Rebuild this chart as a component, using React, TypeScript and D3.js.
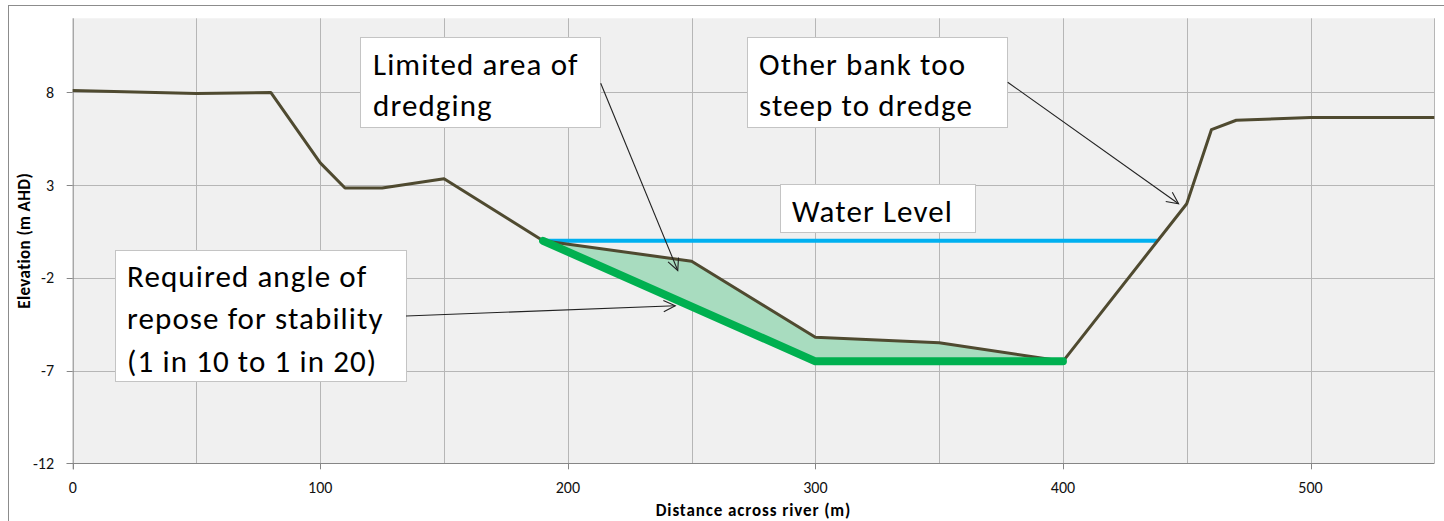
import React from 'react';
import * as d3 from 'd3';

// river cross-section, distance (m) vs elevation (m AHD)
const bankX = [0, 50, 80, 100, 110, 125, 150, 190, 250, 300, 350, 400, 450, 460, 470, 500, 550];
const bankElev = [8.1, 7.95, 8.0, 4.2, 2.85, 2.85, 3.35, 0, -1.1, -5.2, -5.5, -6.5, 2.0, 6.0, 6.5, 6.65, 6.65];

// required angle of repose profile
const reposeX = [190, 300, 400];
const reposeElev = [0, -6.5, -6.5];

// water level
const waterX = [190, 438];
const waterElev = [0, 0];

const xTicks = [0, 100, 200, 300, 400, 500];
const xGrid = [50, 100, 150, 200, 250, 300, 350, 400, 450, 500, 550];
const yTicks = [-12, -7, -2, 3, 8];

const W = 1444;
const H = 521;
const FONT = 'Carlito, Calibri, Lato, sans-serif';

type Pt = [number, number];

const Arrow = ({ from, to }: { from: Pt; to: Pt }) => {
  const ang = Math.atan2(to[1] - from[1], to[0] - from[0]);
  const len = 13;
  const spread = 0.45;
  const a1: Pt = [to[0] - len * Math.cos(ang - spread), to[1] - len * Math.sin(ang - spread)];
  const a2: Pt = [to[0] - len * Math.cos(ang + spread), to[1] - len * Math.sin(ang + spread)];
  return (
    <g stroke="#222" strokeWidth={1.1} fill="none">
      <line x1={from[0]} y1={from[1]} x2={to[0]} y2={to[1]} />
      <polyline points={`${a1[0]},${a1[1]} ${to[0]},${to[1]} ${a2[0]},${a2[1]}`} />
    </g>
  );
};

const TextBox = ({ x, y, w, h, lines, tx, baselines }: {
  x: number; y: number; w: number; h: number; lines: string[]; tx: number; baselines: number[];
}) => (
  <g>
    <rect x={x + 0.5} y={y + 0.5} width={w} height={h} fill="#fff" stroke="#c4c4c4" strokeWidth={1} />
    <text fontFamily={FONT} fontSize={31} letterSpacing={1.1} fill="#000">
      {lines.map((l, i) => (
        <tspan key={i} x={tx} y={baselines[i]}>{l}</tspan>
      ))}
    </text>
  </g>
);

export default function App() {
  const x = d3.scaleLinear().domain([0, 550]).range([72.7, 1434.3]);
  const y = d3.scaleLinear().domain([-12, 12]).range([463.3, 18.3]);

  const line = d3.line<Pt>().x(d => x(d[0])).y(d => y(d[1]));

  const bank: Pt[] = bankX.map((v, i) => [v, bankElev[i]]);
  const repose: Pt[] = reposeX.map((v, i) => [v, reposeElev[i]]);
  const water: Pt[] = waterX.map((v, i) => [v, waterElev[i]]);

  // dredge area: bank between the repose ends, back along the repose line
  const dredgeTop = bank.filter(d => d[0] >= reposeX[0] && d[0] <= reposeX[reposeX.length - 1]);
  const dredge: Pt[] = [...dredgeTop, ...repose.slice().reverse()];

  const [x0, x1] = x.range();
  const [yb, yt] = y.range();

  return (
    <svg width={W} height={H} style={{ position: 'absolute', left: 0, top: 0, background: '#fff' }}>
      {/* chart frame */}
      <rect x={8.5} y={5.5} width={1500} height={600} fill="#fff" stroke="#8c8c8c" strokeWidth={1} />

      {/* plot area */}
      <rect x={x0} y={yt} width={x1 - x0} height={yb - yt} fill="#f0f0f0" />
      <g stroke="#b6b6b6" strokeWidth={1}>
        {xGrid.map(t => (
          <line key={'gx' + t} x1={Math.round(x(t)) + 0.5} x2={Math.round(x(t)) + 0.5} y1={yt} y2={yb} />
        ))}
        {yTicks.map(t => (
          <line key={'gy' + t} x1={x0} x2={x1} y1={Math.round(y(t)) + 0.5} y2={Math.round(y(t)) + 0.5} />
        ))}
      </g>

      {/* axes */}
      <g stroke="#868686" strokeWidth={1}>
        <line x1={x0 + 0.5} x2={x0 + 0.5} y1={yt} y2={yb + 6} />
        <line x1={x0 - 6} x2={x1} y1={Math.round(yb) + 0.5} y2={Math.round(yb) + 0.5} />
        {yTicks.map(t => (
          <line key={'ty' + t} x1={x0 - 6} x2={x0} y1={Math.round(y(t)) + 0.5} y2={Math.round(y(t)) + 0.5} />
        ))}
        {xTicks.map(t => (
          <line key={'tx' + t} x1={Math.round(x(t)) + 0.5} x2={Math.round(x(t)) + 0.5} y1={yb} y2={yb + 6} />
        ))}
      </g>
      <g fontFamily={FONT} fontSize={16} fill="#111">
        {yTicks.map(t => (
          <text key={'ly' + t} x={54} y={y(t)} dy="0.35em" textAnchor="end">{t}</text>
        ))}
        {xTicks.map(t => (
          <text key={'lx' + t} x={x(t)} y={493} textAnchor="middle">{t}</text>
        ))}
      </g>
      <text x={(x0 + x1) / 2} y={516} textAnchor="middle" fontFamily={FONT} fontSize={17} letterSpacing={0.9}
        fontWeight="bold">
        Distance across river (m)
      </text>
      <text transform={`translate(30,${(yt + yb) / 2}) rotate(-90)`} textAnchor="middle" fontFamily={FONT}
        fontSize={17} letterSpacing={0.4} fontWeight="bold">
        Elevation (m AHD)
      </text>

      {/* dredge area and profiles */}
      <path d={line(dredge) + 'Z'} fill="#a8dcbf" stroke="none" />
      <path d={line(water) ?? ''} fill="none" stroke="#00b0f0" strokeWidth={4} />
      <path d={line(bank) ?? ''} fill="none" stroke="#4f4a30" strokeWidth={3} strokeLinejoin="round" />
      <path d={line(repose) ?? ''} fill="none" stroke="#00b050" strokeWidth={8} strokeLinecap="round"
        strokeLinejoin="round" />

      {/* annotations */}
      <TextBox x={360} y={37} w={240} h={90} lines={['Limited area of', 'dredging']} tx={373} baselines={[75, 116]} />
      <TextBox x={747} y={37} w={260} h={90} lines={['Other bank too', 'steep to dredge']} tx={759}
        baselines={[75, 116]} />
      <TextBox x={780} y={184} w={195} h={48} lines={['Water Level']} tx={792} baselines={[222]} />
      <TextBox x={115} y={250} w={291} h={131}
        lines={['Required angle of', 'repose for stability', '(1 in 10 to 1 in 20)']} tx={127}
        baselines={[287, 329, 372]} />

      <Arrow from={[600.7, 83.3]} to={[x(244.4), y(-1.6)]} />
      <Arrow from={[1007.7, 82.3]} to={[x(446.7), y(2.0)]} />
      <Arrow from={[406, 316]} to={[x(243.4), y(-3.5)]} />
    </svg>
  );
}
